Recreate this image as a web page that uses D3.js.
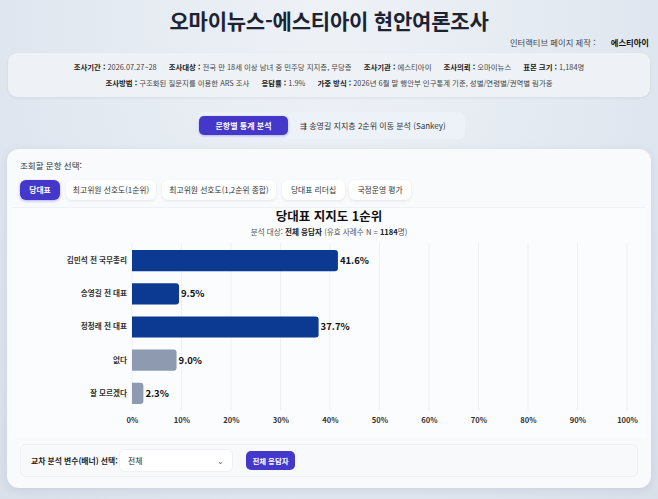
<!DOCTYPE html>
<html lang="ko">
<head>
<meta charset="utf-8">
<script src="https://cdn.jsdelivr.net/npm/d3@7"></script>
<style>
  html, body { margin:0; padding:0; }
  body { width:658px; height:499px; overflow:hidden; position:relative;
    font-family:"Noto Sans CJK KR","Noto Sans",sans-serif; color:#222;
    background: radial-gradient(ellipse at 50% 0%, #eef2f7 0%, #e3e9f1 55%, #d9e0ea 100%); }
  .abs { position:absolute; }
  .title { left:0; width:658px; top:5px; text-align:center; font-size:21px; font-weight:700; color:#1c2333; letter-spacing:-0.2px; }
  .maker { right:9px; top:36px; font-size:8.3px; color:#444; }
  .maker b { margin-left:13px; color:#111; }
  .info { left:8px; top:53px; width:642px; height:44px; background:#eef2f7; border-radius:9px;
    box-shadow:0 1px 3px rgba(30,50,90,0.08); font-size:7.4px; color:#444; text-align:center; }
  .info .l1 { position:absolute; top:8px; width:100%; }
  .info .l2 { position:absolute; top:24px; width:100%; }
  .info b { color:#1a1a1a; }
  .info span.s { margin-right:12px; }
  .tabs { left:197px; top:112px; width:268px; height:27px; background:#edf1f8; border-radius:7px; }
  .tab-act { left:199px; top:116px; width:89px; height:19px; background:#4338ca; border-radius:5px; color:#fff;
    font-size:8px; font-weight:700; line-height:19px; text-align:center; box-shadow:0 1px 3px rgba(67,56,202,0.35); }
  .tab2 { left:300px; top:116px; height:19px; line-height:19px; font-size:8px; color:#333; }
  .card { left:7px; top:149px; width:644px; height:339px; background:#f9fafc; border-radius:12px;
    box-shadow:0 2px 8px rgba(40,60,100,0.10); }
  .qlabel { left:20px; top:159px; font-size:8.5px; color:#333; }
  .btn { top:180px; height:20px; line-height:20px; background:#fff; border-radius:6px; font-size:7.8px; color:#333;
    text-align:center; box-shadow:0 1px 3px rgba(30,40,80,0.10); }
  .btn.act { background:#4338ca; color:#fff; font-weight:700; box-shadow:0 1px 3px rgba(67,56,202,0.4); }
  .chartbox { left:12px; top:207px; width:634px; height:231px; background:#fbfcfd; border-top:1px solid #eef1f5; }
  .ctitle { left:0; width:658px; top:206px; text-align:center; font-size:12.5px; font-weight:700; color:#111; }
  .csub { left:0; width:658px; top:226px; text-align:center; font-size:7.6px; color:#555; }
  .csub b { color:#222; }
  .filter { left:20px; top:444px; width:618px; height:33px; background:#f8f9fb; border:1px solid #eef0f4; border-radius:6px; box-sizing:border-box; }
  .flabel { left:31px; top:455px; font-size:7.8px; font-weight:700; color:#222; }
  .select { left:120px; top:450px; width:112px; height:21px; background:#fff; border-radius:5px; box-shadow:0 0 0 1px #eef0f4;
    font-size:7.8px; line-height:21px; color:#222; }
  .select span { position:absolute; left:8px; }
  .select i { position:absolute; right:8px; top:0; font-style:normal; color:#666; font-size:8px; }
  .fbtn { left:246px; top:451px; width:49px; height:19px; background:#4338ca; border-radius:5px; color:#fff;
    font-size:7.4px; font-weight:700; line-height:19px; text-align:center; }
  svg { position:absolute; left:0; top:0; }
</style>
</head>
<body>
<div class="abs title">오마이뉴스-에스티아이 현안여론조사</div>
<div class="abs maker">인터랙티브 페이지 제작 : <b>에스티아이</b></div>
<div class="abs info">
  <div class="l1"><span class="s"><b>조사기간 :</b> 2026.07.27~28</span><span class="s"><b>조사대상 :</b> 전국 만 18세 이상 남녀 중 민주당 지지층, 무당층</span><span class="s"><b>조사기관 :</b> 에스티아이</span><span class="s"><b>조사의뢰 :</b> 오마이뉴스</span><span><b>표본 크기 :</b> 1,184명</span></div>
  <div class="l2"><span class="s"><b>조사방법 :</b> 구조화된 질문지를 이용한 ARS 조사</span><span class="s"><b>응답률 :</b> 1.9%</span><span><b>가중 방식 :</b> 2026년 6월 말 행안부 인구통계 기준, 성별/연령별/권역별 림가중</span></div>
</div>
<div class="abs tabs"></div>
<div class="abs tab-act">문항별 통계 분석</div>
<div class="abs tab2">⇶ 송영길 지지층 2순위 이동 분석 (Sankey)</div>
<div class="abs card"></div>
<div class="abs qlabel">조회할 문항 선택:</div>
<div id="btns"></div>
<div class="abs chartbox"></div>
<div class="abs ctitle">당대표 지지도 1순위</div>
<div class="abs csub">분석 대상: <b>전체 응답자</b> (유효 사례수 N = <b>1184</b>명)</div>
<div class="abs filter"></div>
<div class="abs flabel">교차 분석 변수(배너) 선택:</div>
<div class="abs select"><span>전체</span><i>⌄</i></div>
<div class="abs fbtn">전체 응답자</div>
<svg id="chart" width="658" height="499"></svg>
<script>
const questions = ["당대표", "최고위원 선호도(1순위)", "최고위원 선호도(1,2순위 종합)", "당대표 리더십", "국정운영 평가"];
const categories = ["김민석 전 국무총리", "송영길 전 대표", "정청래 전 대표", "없다", "잘 모르겠다"];
const values = [41.6, 9.5, 37.7, 9.0, 2.3];
const isCandidate = [true, true, true, false, false];
const xTicks = [0, 10, 20, 30, 40, 50, 60, 70, 80, 90, 100];

// question buttons
const btnPos = [[20, 40], [66, 90], [162, 114], [282, 63], [349, 62]];
d3.select("#btns").selectAll("div").data(questions).join("div")
  .attr("class", (d, i) => "abs btn" + (i === 0 ? " act" : ""))
  .style("left", (d, i) => btnPos[i][0] + "px")
  .style("width", (d, i) => btnPos[i][1] + "px")
  .text(d => d);

const svg = d3.select("#chart");
const x = d3.scaleLinear().domain([0, 100]).range([132, 627]);
const y = d3.scaleBand().domain(categories).range([244, 410]).paddingInner(0.36).paddingOuter(0.18);

// grid
svg.append("g").selectAll("line").data(xTicks).join("line")
  .attr("x1", d => x(d)).attr("x2", d => x(d))
  .attr("y1", 243).attr("y2", 410)
  .attr("stroke", "#eef0f4").attr("stroke-width", 1);

// x axis labels
const xAxis = d3.axisBottom(x).tickValues(xTicks).tickFormat(d => d + "%").tickSize(0).tickPadding(8);
const gx = svg.append("g").attr("transform", "translate(0,410)").call(xAxis);
gx.select(".domain").remove();
gx.selectAll("text").attr("font-size", "7.6px").attr("font-weight", 600).attr("fill", "#333")
  .attr("font-family", "Noto Sans CJK KR, sans-serif");

// y axis labels
const yAxis = d3.axisLeft(y).tickSize(0).tickPadding(5);
const gy = svg.append("g").attr("transform", "translate(132,0)").call(yAxis);
gy.select(".domain").remove();
gy.selectAll("text").attr("font-size", "7.6px").attr("font-weight", 700).attr("fill", "#333")
  .attr("font-family", "Noto Sans CJK KR, sans-serif");

// bars with rounded right corners
const r = 3;
function barPath(d, i) {
  const x0 = x(0), x1 = x(d), y0 = y(categories[i]), h = y.bandwidth();
  const rr = Math.min(r, (x1 - x0) / 2);
  return `M${x0},${y0}H${x1 - rr}Q${x1},${y0} ${x1},${y0 + rr}V${y0 + h - rr}Q${x1},${y0 + h} ${x1 - rr},${y0 + h}H${x0}Z`;
}
svg.append("g").selectAll("path").data(values).join("path")
  .attr("d", barPath)
  .attr("fill", (d, i) => isCandidate[i] ? "#0c3991" : "#8d9ab0");

// value labels
svg.append("g").selectAll("text").data(values).join("text")
  .attr("x", d => x(d) + 2)
  .attr("y", (d, i) => y(categories[i]) + y.bandwidth() / 2)
  .attr("dy", "0.35em")
  .attr("font-size", "9.5px").attr("font-weight", 700).attr("fill", "#111")
  .attr("font-family", "Noto Sans CJK KR, sans-serif")
  .text(d => d.toFixed(1) + "%");
</script>
</body>
</html>
